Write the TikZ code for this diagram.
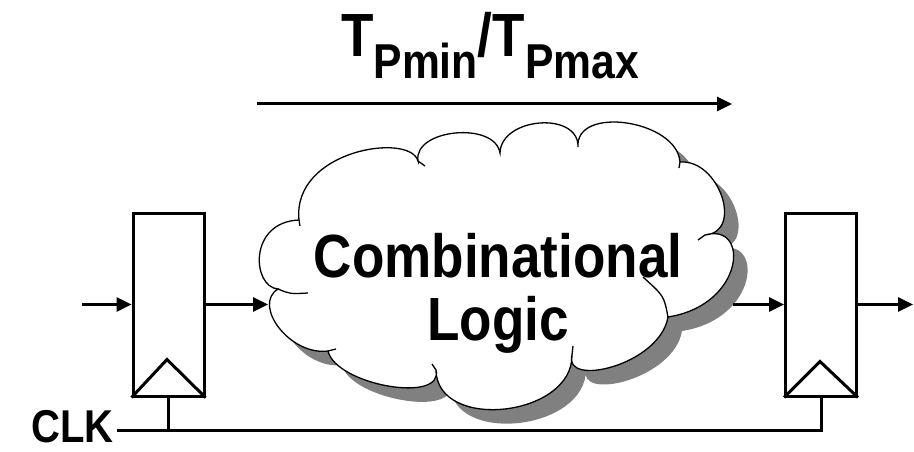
\documentclass[tikz,border=0pt]{standalone}
\usepackage{fontspec}
\setmainfont{Liberation Sans}[FakeStretch=0.87]
\usetikzlibrary{arrows.meta}
\newcommand\cloudpath[1]{%
  \path[#1] (278,289) .. controls (252,287) and (248,222) .. (299,220)
  .. controls (292,150) and (410,132) .. (418,161)
  .. controls (413,129) and (495,121) .. (500,153)
  .. controls (501,117) and (579,111) .. (578,147)
  .. controls (575,105) and (677,120) .. (680,162)
  .. controls (719,159) and (744,232) .. (705,235)
  .. controls (750,222) and (745,305) .. (668,317)
  .. controls (660,365) and (563,388) .. (572,355)
  .. controls (573,417) and (437,432) .. (436,370)
  .. controls (444,404) and (336,385) .. (328,351)
  .. controls (290,356) and (252,305) .. (278,289) -- cycle;}
\begin{document}
\begin{tikzpicture}[x=1pt,y=-1pt,
  wire/.style={line width=3pt,-{Triangle[length=15pt,width=14pt]}},
  wireplain/.style={line width=3pt},
  regbox/.style={draw,line width=3pt,fill=white,minimum width=71pt,minimum height=183pt,inner sep=0pt},
  clockmark/.style={line width=3pt,line join=miter},
  cloudline/.style={line width=1.3pt},
]
\useasboundingbox (0,0) rectangle (914,452);
% cloud shadow and body
\cloudpath{fill=black!50,shift={(14,14)}}
\cloudpath{fill=white,draw=black,cloudline}
% inner strokes of the cloud
\draw[cloudline] (278,289) .. controls (290,294) .. (308,293);
\draw[cloudline] (299,220) -- (300,226);
\draw[cloudline] (418,161) .. controls (422,163) .. (425,166);
\draw[cloudline] (680,162) -- (679,168);
\draw[cloudline] (705,235) -- (698,240);
\draw[cloudline] (668,317) .. controls (664,296) .. (643,277);
\draw[cloudline] (572,355) -- (573,346);
\draw[cloudline] (436,370) -- (432,364);
\draw[cloudline] (328,351) -- (336,349);
\coordinate (cloudin) at (268,304.5);
\coordinate (cloudout) at (733,304.5);
\node[font=\bfseries\fontsize{61}{63}\selectfont, align=center, inner sep=0pt] (cl) at (498,293) {Combinational\\Logic};
% registers
\node[regbox] (r1) at (168.5,304.5) {};
\node[regbox] (r2) at (821,304.5) {};
\draw[clockmark] (r1.south west) -- ++(35.5,-38) -- (r1.south east);
\draw[clockmark] (r2.south west) -- ++(36,-36) -- (r2.south east);
% clock
\node[anchor=base east, inner sep=0pt, font=\bfseries\fontsize{46}{46}\selectfont] (clk) at (114,442) {CLK};
\coordinate (bus) at (117,430);
\draw[wireplain] (bus) -| (r2.south);
\draw[wireplain] (r1.south) -- (r1.south |- bus);
% data wires
\coordinate (in) at (82,304.5);
\coordinate (out) at (913,304.5);
\draw[wire] (in) -- (r1.west);
\draw[wire] (r1.east) -- (cloudin);
\draw[wire] (cloudout) -- (r2.west);
\draw[wire] (r2.east) -- (out);
% timing arrow
\coordinate (ta) at (257,104);
\coordinate (tb) at (732,104);
\draw[wire] (ta) -- (tb);
\node[anchor=base, inner sep=0pt, font=\bfseries\fontsize{61}{61}\selectfont] (tp) at (490,57) {T\raisebox{-21pt}{\fontsize{49}{49}\selectfont Pmin}/T\raisebox{-21pt}{\fontsize{49}{49}\selectfont Pmax}};
\end{tikzpicture}
\end{document}
